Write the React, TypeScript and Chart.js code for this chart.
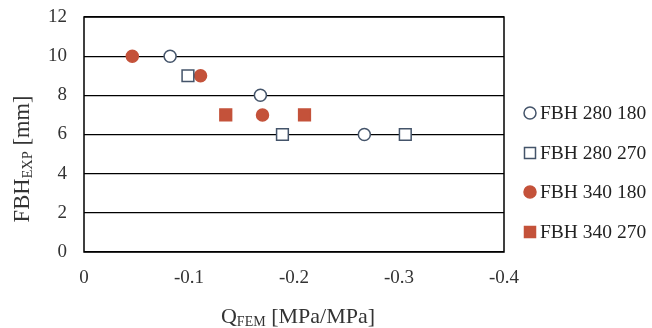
import React, { useEffect, useRef } from 'react';
import { Chart, registerables } from 'chart.js';

Chart.register(...registerables);

const seriesNames = ['FBH 280 180', 'FBH 280 270', 'FBH 340 180', 'FBH 340 270'];
const q280_180 = [-0.082, -0.168, -0.267];
const fbh280_180 = [10, 8, 6];
const q280_270 = [-0.099, -0.189, -0.306];
const fbh280_270 = [9, 6, 6];
const q340_180 = [-0.046, -0.111, -0.170];
const fbh340_180 = [10, 9, 7];
const q340_270 = [-0.135, -0.210];
const fbh340_270 = [7, 7];

const xTicks = [0, -0.1, -0.2, -0.3, -0.4];
const yTicks = [0, 2, 4, 6, 8, 10, 12];

const NAVY = '#44546A';
const RED = '#C4523A';
const FONT = '"Liberation Serif", "Times New Roman", serif';

const styles = [
  { shape: 'circle', fill: '#FFFFFF', stroke: NAVY },
  { shape: 'rect', fill: '#FFFFFF', stroke: NAVY },
  { shape: 'circle', fill: RED, stroke: RED },
  { shape: 'rect', fill: RED, stroke: RED },
];

const toPts = (xs: number[], ys: number[]) => xs.map((x, i) => ({ x, y: ys[i] }));

function drawSubText(ctx: CanvasRenderingContext2D, parts: [string, boolean][], size: number, subSize: number) {
  let w = 0;
  for (const [t, sub] of parts) {
    ctx.font = `${sub ? subSize : size}px ${FONT}`;
    w += ctx.measureText(t).width;
  }
  let x = -w / 2;
  for (const [t, sub] of parts) {
    ctx.font = `${sub ? subSize : size}px ${FONT}`;
    ctx.fillText(t, x, sub ? size * 0.12 : 0);
    x += ctx.measureText(t).width;
  }
}

const decorPlugin = {
  id: 'decor',
  afterDraw(chart: any) {
    const ctx = chart.ctx as CanvasRenderingContext2D;
    const a = chart.chartArea;
    ctx.save();
    ctx.strokeStyle = '#000';
    ctx.lineWidth = 1.5;
    ctx.strokeRect(a.left, a.top, a.right - a.left, a.bottom - a.top);

    ctx.fillStyle = '#333';
    ctx.textAlign = 'left';
    ctx.textBaseline = 'alphabetic';
    ctx.save();
    ctx.translate((a.left + a.right) / 2 + 4, 323);
    drawSubText(ctx, [['Q', false], ['FEM', true], [' [MPa/MPa]', false]], 22, 14);
    ctx.restore();
    ctx.save();
    ctx.translate(29, 159);
    ctx.rotate(-Math.PI / 2);
    drawSubText(ctx, [['FBH', false], ['EXP', true], [' [mm]', false]], 22.5, 14.5);
    ctx.restore();

    const ys = [113, 153, 192, 232];
    seriesNames.forEach((name, i) => {
      const s = styles[i];
      const cx = 530;
      const cy = ys[i];
      ctx.lineWidth = 1.5;
      ctx.fillStyle = s.fill;
      ctx.strokeStyle = s.stroke;
      ctx.beginPath();
      if (s.shape === 'circle') {
        ctx.arc(cx, cy, 6, 0, Math.PI * 2);
      } else {
        ctx.rect(cx - 5.5, cy - 5.5, 11, 11);
      }
      ctx.fill();
      ctx.stroke();
      ctx.fillStyle = '#222';
      ctx.font = `19.5px ${FONT}`;
      ctx.textBaseline = 'middle';
      ctx.fillText(name, 540, cy + 1);
    });
    ctx.restore();
  },
};

export default function App() {
  const ref = useRef<HTMLCanvasElement | null>(null);
  useEffect(() => {
    if (!ref.current) return;
    const data = [
      toPts(q280_180, fbh280_180),
      toPts(q280_270, fbh280_270),
      toPts(q340_180, fbh340_180),
      toPts(q340_270, fbh340_270),
    ];
    const chart = new Chart(ref.current, {
      type: 'scatter',
      data: {
        datasets: data.map((d, i) => ({
          label: seriesNames[i],
          data: d,
          pointStyle: styles[i].shape,
          backgroundColor: styles[i].fill,
          borderColor: styles[i].stroke,
          pointBorderWidth: 1.5,
          pointRadius: styles[i].shape === 'circle' ? 6 : 8.3,
          pointHoverRadius: styles[i].shape === 'circle' ? 6 : 8.3,
        })),
      },
      options: {
        animation: false,
        responsive: false,
        maintainAspectRatio: false,
        layout: { padding: { top: 17, right: 148, left: 0, bottom: 0 } },
        plugins: { legend: { display: false }, tooltip: { enabled: false } },
        scales: {
          x: {
            type: 'linear',
            min: -0.4,
            max: 0,
            reverse: true,
            afterFit: (s: any) => {
              s.height = 76;
              s.paddingLeft = 0; s.paddingRight = 0; s.paddingTop = 0; s.paddingBottom = 0;
            },
            afterBuildTicks: (s: any) => { s.ticks = xTicks.map((v) => ({ value: v })); },
            grid: { display: false, drawTicks: false },
            border: { display: false },
            ticks: {
              padding: 15,
              color: '#333',
              font: { family: FONT, size: 19 },
              callback: (v: any) => (Math.abs(v) < 1e-9 ? '0' : Number(v).toFixed(1)),
              maxRotation: 0,
            },
          },
          y: {
            min: 0,
            max: 12,
            afterFit: (s: any) => {
              s.width = 84;
              s.paddingLeft = 0; s.paddingRight = 0; s.paddingTop = 0; s.paddingBottom = 0;
            },
            afterBuildTicks: (s: any) => { s.ticks = yTicks.map((v) => ({ value: v })); },
            grid: { color: '#000', lineWidth: 1.3, drawTicks: false },
            border: { display: false },
            ticks: {
              padding: 17,
              color: '#333',
              font: { family: FONT, size: 19 },
              callback: (v: any) => String(v),
            },
          },
        },
      },
      plugins: [decorPlugin],
    });
    return () => chart.destroy();
  }, []);
  return (
    <div style={{ position: 'fixed', left: 0, top: 0, width: 652, height: 328, background: '#fff' }}>
      <canvas ref={ref} width={652} height={328} style={{ width: 652, height: 328 }} />
    </div>
  );
}
